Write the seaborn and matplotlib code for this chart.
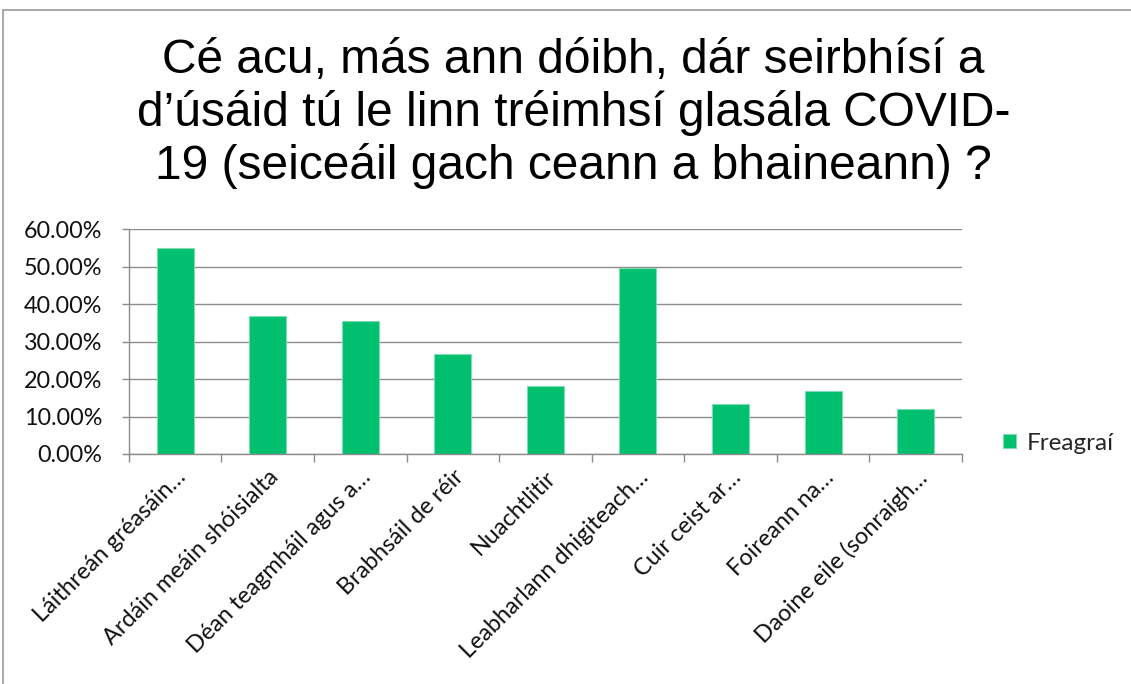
import matplotlib
matplotlib.use("Agg")
import matplotlib.pyplot as plt
import seaborn as sns
import pandas as pd
from matplotlib.ticker import PercentFormatter, FixedLocator
from matplotlib.patches import Rectangle

# Data
categories = [
    "Láithreán gréasáin…",
    "Ardáin meáin shóisialta",
    "Déan teagmháil agus a…",
    "Brabhsáil de réir",
    "Nuachtlitir",
    "Leabharlann dhigiteach…",
    "Cuir ceist ar…",
    "Foireann na…",
    "Daoine eile (sonraigh…",
]
values = [55.0, 36.9, 35.5, 26.8, 18.1, 49.7, 13.4, 16.7, 12.0]
series_name = "Freagraí"
title = ("Cé acu, más ann dóibh, dár seirbhísí a\n"
         "d’úsáid tú le linn tréimhsí glasála COVID-\n"
         "19 (seiceáil gach ceann a bhaineann) ?")

df = pd.DataFrame({"category": categories, "value": values})

sns.set_style("white")
plt.rcParams["font.family"] = ["Lato", "DejaVu Sans"]

bar_color = "#00BF6F"
grid_color = "#8C8C8C"

fig = plt.figure(figsize=(11.31, 6.84), dpi=100)
ax = fig.add_axes([0.114, 0.3363, 0.7365, 0.3285])

sns.barplot(data=df, x="category", y="value", color=bar_color, width=0.4,
            saturation=1, edgecolor="#7FDDB5", linewidth=0.8,
            label=series_name, ax=ax)

ax.set_ylim(0, 60)
ax.set_xlim(-0.5, len(categories) - 0.5)
ax.yaxis.set_major_formatter(PercentFormatter(decimals=2))
ax.set_yticks(range(0, 61, 10))
ax.yaxis.grid(True, color=grid_color, linewidth=1)
ax.set_axisbelow(True)
ax.set_xlabel("")
ax.set_ylabel("")

for side in ["top", "right"]:
    ax.spines[side].set_visible(False)
for side in ["left", "bottom"]:
    ax.spines[side].set_color(grid_color)
    ax.spines[side].set_linewidth(1)

# y ticks to the left
ax.tick_params(axis="y", which="major", left=True, length=5, width=1,
               color=grid_color, labelsize=16.8, labelcolor="#111111", pad=14)
# x ticks: labels at category centres, tick marks between categories
ax.tick_params(axis="x", which="major", bottom=False, length=0,
               labelsize=16.8, labelcolor="#111111", pad=9)
ax.xaxis.set_minor_locator(FixedLocator([i - 0.5 for i in range(len(categories) + 1)]))
ax.tick_params(axis="x", which="minor", bottom=True, length=6, width=1,
               color=grid_color)
for lab in ax.get_xticklabels():
    lab.set_rotation(45)
    lab.set_ha("right")
    lab.set_va("top")
    lab.set_rotation_mode("anchor")

fig.text(0.507, 0.945, title, ha="center", va="top", fontsize=34.5,
         family=["Liberation Sans", "DejaVu Sans"], color="#000000",
         linespacing=1.2)

ax.legend(loc="center left", bbox_to_anchor=(0.878, 0.352),
          bbox_transform=fig.transFigure, frameon=False, fontsize=17.5,
          handlelength=0.55, handleheight=0.55, handletextpad=0.45,
          borderaxespad=0)

# outer chart border (extends past the right and bottom edges)
fig.add_artist(Rectangle((3 / 1131, -0.2), 1.2, 1.2 - 10 / 684,
                         transform=fig.transFigure, fill=False,
                         edgecolor="#9A9A9A", linewidth=1.2))

fig.savefig("out.png", dpi=100)
